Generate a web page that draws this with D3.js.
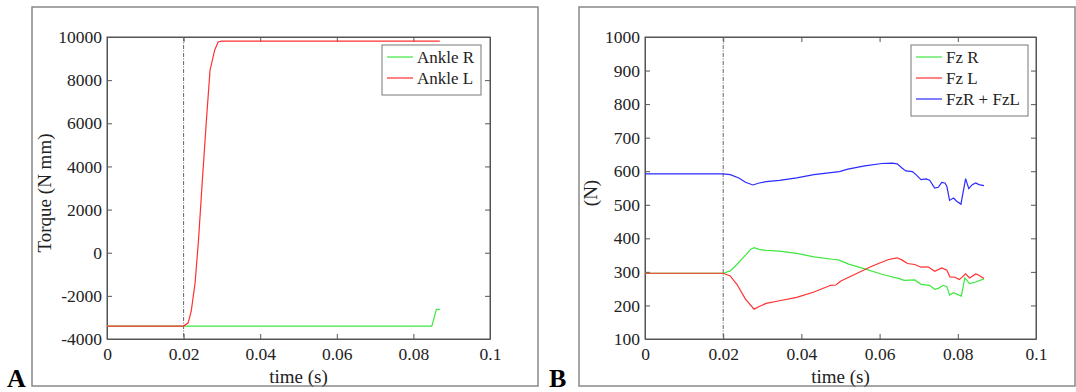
<!DOCTYPE html>
<html>
<head>
<meta charset="utf-8">
<script src="https://cdn.jsdelivr.net/npm/d3@7"></script>
<style>
  body { margin: 0; background: #fff; }
  svg text { font-family: "Liberation Serif", "DejaVu Serif", serif; fill: #222; }
</style>
</head>
<body>
<div id="container"></div>
<script>
/* DATA */
// panel A: ankle torque
const tAnkleR = [0, 0.0848, 0.0860, 0.0869];
const ankleR  = [-3400, -3400, -2630, -2630];
const tAnkleL = [0, 0.0200, 0.0212, 0.0220, 0.0230, 0.0239, 0.0248, 0.0259, 0.0269, 0.0281, 0.0290, 0.0299, 0.0869];
const ankleL  = [-3400, -3400, -3250, -2700, -1400, 600, 3100, 6000, 8460, 9380, 9770, 9810, 9810];

// panel B: vertical forces
const tFzR = [0, 0.0200, 0.0218, 0.0235, 0.0257, 0.0270, 0.0279, 0.0292, 0.0310, 0.0344, 0.0388, 0.0432, 0.0484, 0.0497, 0.0519, 0.0562, 0.0606, 0.0650, 0.0663, 0.0690, 0.0706, 0.0728, 0.0741, 0.0750, 0.0763, 0.0772, 0.0779, 0.0789, 0.0809, 0.0818, 0.0830, 0.0846, 0.0867];
const fzR  = [296, 296, 303, 322, 350, 367, 372, 367, 364, 362, 355, 345, 337, 335, 324, 309, 293, 280, 275, 276, 263, 260, 248, 251, 260, 256, 231, 238, 228, 282, 265, 270, 279];
const tFzL = [0, 0.0200, 0.0218, 0.0235, 0.0257, 0.0279, 0.0292, 0.0310, 0.0344, 0.0388, 0.0432, 0.0475, 0.0488, 0.0501, 0.0536, 0.0580, 0.0623, 0.0645, 0.0658, 0.0671, 0.0690, 0.0706, 0.0724, 0.0741, 0.0759, 0.0772, 0.0780, 0.0793, 0.0804, 0.0820, 0.0830, 0.0846, 0.0854, 0.0867];
const fzL  = [296, 296, 288, 263, 219, 189, 197, 206, 214, 224, 240, 260, 261, 273, 292, 317, 337, 342, 335, 325, 322, 314, 315, 302, 312, 305, 285, 284, 277, 294, 282, 294, 290, 280];
const tFzSum = [0, 0.0200, 0.0218, 0.0240, 0.0257, 0.0276, 0.0292, 0.0310, 0.0344, 0.0388, 0.0432, 0.0475, 0.0497, 0.0519, 0.0562, 0.0606, 0.0632, 0.0645, 0.0658, 0.0667, 0.0684, 0.0693, 0.0706, 0.0719, 0.0728, 0.0741, 0.0750, 0.0759, 0.0767, 0.0772, 0.0779, 0.0789, 0.0798, 0.0808, 0.0820, 0.0828, 0.0837, 0.0846, 0.0854, 0.0867];
const fzSum  = [592, 592, 590, 580, 567, 559, 565, 569, 573, 580, 590, 596, 599, 606, 616, 623, 624, 622, 609, 601, 599, 590, 575, 577, 573, 550, 552, 567, 565, 555, 513, 520, 510, 502, 578, 548, 560, 565, 560, 557];

const xTicks = [0, 0.02, 0.04, 0.06, 0.08, 0.1];
const yTicksA = [-4000, -2000, 0, 2000, 4000, 6000, 8000, 10000];
const yTicksB = [100, 200, 300, 400, 500, 600, 700, 800, 900, 1000];
const eventTime = 0.02;

const green = "#3ee83e", red = "#ff3030", blue = "#2b2bff";
const serif = "Liberation Serif, DejaVu Serif, serif";

const svg = d3.select("#container").append("svg")
  .attr("width", 1076).attr("height", 392)
  .attr("font-family", serif);

function panel(opt) {
  const { frame, plot, yDomain, yTicks, yLabel, letter, series, legend } = opt;

  // outer frame
  svg.append("rect")
    .attr("x", frame.x).attr("y", frame.y)
    .attr("width", frame.w).attr("height", frame.h)
    .attr("fill", "none").attr("stroke", "#888").attr("stroke-width", 1.5);

  const x = d3.scaleLinear().domain([0, 0.1]).range([plot.x0, plot.x1]);
  const y = d3.scaleLinear().domain(yDomain).range([plot.y1, plot.y0]);

  const g = svg.append("g");

  // axes with inward ticks on all four sides
  const fmt = d => String(+d.toFixed(2));
  g.append("g").attr("transform", `translate(0,${plot.y1})`)
    .call(d3.axisBottom(x).tickValues(xTicks).tickFormat(fmt).tickSizeInner(-5).tickSizeOuter(0).tickPadding(6))
    .call(a => a.selectAll("text").attr("font-size", 17.5).attr("dy", "0.85em"));
  g.append("g").attr("transform", `translate(0,${plot.y0})`)
    .call(d3.axisTop(x).tickValues(xTicks).tickFormat("").tickSizeInner(-5).tickSizeOuter(0));
  g.append("g").attr("transform", `translate(${plot.x0},0)`)
    .call(d3.axisLeft(y).tickValues(yTicks).tickFormat(fmt).tickSizeInner(-5).tickSizeOuter(0).tickPadding(5))
    .call(a => a.selectAll("text").attr("font-size", 17.5));
  g.append("g").attr("transform", `translate(${plot.x1},0)`)
    .call(d3.axisRight(y).tickValues(yTicks).tickFormat("").tickSizeInner(-5).tickSizeOuter(0));
  g.selectAll("g").attr("font-family", serif);
  g.selectAll(".domain").attr("stroke", "#555");
  g.selectAll(".tick line").attr("stroke", "#555");

  svg.append("rect")
    .attr("x", plot.x0).attr("y", plot.y0)
    .attr("width", plot.x1 - plot.x0).attr("height", plot.y1 - plot.y0)
    .attr("fill", "none").attr("stroke", "#555").attr("stroke-width", 1);

  // event marker
  svg.append("line")
    .attr("x1", x(eventTime)).attr("x2", x(eventTime))
    .attr("y1", plot.y0).attr("y2", plot.y1)
    .attr("stroke", "#666").attr("stroke-width", 1)
    .attr("stroke-dasharray", "4,1.5,1,1.5");

  const line = d3.line().x(d => x(d[0])).y(d => y(d[1]));
  series.forEach(s => {
    svg.append("path")
      .datum(s.t.map((t, i) => [t, s.v[i]]))
      .attr("fill", "none").attr("stroke", s.color).attr("stroke-width", 1.2)
      .attr("d", line);
  });

  // legend
  svg.append("rect")
    .attr("x", legend.x).attr("y", legend.y)
    .attr("width", legend.w).attr("height", legend.rowH * series.length + 8)
    .attr("fill", "#fff").attr("stroke", "#777").attr("stroke-width", 1);
  series.forEach((s, i) => {
    const ly = legend.y + 12 + i * legend.rowH;
    svg.append("line")
      .attr("x1", legend.x + 5).attr("x2", legend.x + 31)
      .attr("y1", ly).attr("y2", ly)
      .attr("stroke", s.color).attr("stroke-width", 1.2);
    svg.append("text")
      .attr("x", legend.x + 35).attr("y", ly + 6)
      .attr("font-size", 17).text(s.name);
  });

  // axis titles
  svg.append("text")
    .attr("x", (plot.x0 + plot.x1) / 2).attr("y", 383)
    .attr("text-anchor", "middle").attr("font-size", 19).text("time (s)");
  svg.append("text")
    .attr("transform", `translate(${opt.yLabelX},${(plot.y0 + plot.y1) / 2 + 5}) rotate(-90)`)
    .attr("text-anchor", "middle").attr("font-size", 19).text(yLabel);

  svg.append("text")
    .attr("x", opt.letterX).attr("y", 387)
    .attr("font-size", 26).attr("font-weight", "bold").style("fill", "#000").text(letter);
}

panel({
  frame: { x: 32, y: 7, w: 506, h: 379 },
  plot: { x0: 107, x1: 490, y0: 37, y1: 339 },
  yDomain: [-4000, 10000], yTicks: yTicksA,
  yLabel: "Torque (N mm)", yLabelX: 51,
  letter: "A", letterX: 7,
  series: [
    { name: "Ankle R", t: tAnkleR, v: ankleR, color: green },
    { name: "Ankle L", t: tAnkleL, v: ankleL, color: red }
  ],
  legend: { x: 382, y: 45, w: 99, rowH: 21 }
});

panel({
  frame: { x: 579, y: 7, w: 496, h: 379 },
  plot: { x0: 645, x1: 1036, y0: 37, y1: 339 },
  yDomain: [100, 1000], yTicks: yTicksB,
  yLabel: "(N)", yLabelX: 597,
  letter: "B", letterX: 549,
  series: [
    { name: "Fz R", t: tFzR, v: fzR, color: green },
    { name: "Fz L", t: tFzL, v: fzL, color: red },
    { name: "FzR + FzL", t: tFzSum, v: fzSum, color: blue }
  ],
  legend: { x: 911, y: 45, w: 117, rowH: 21 }
});
</script>
</body>
</html>
